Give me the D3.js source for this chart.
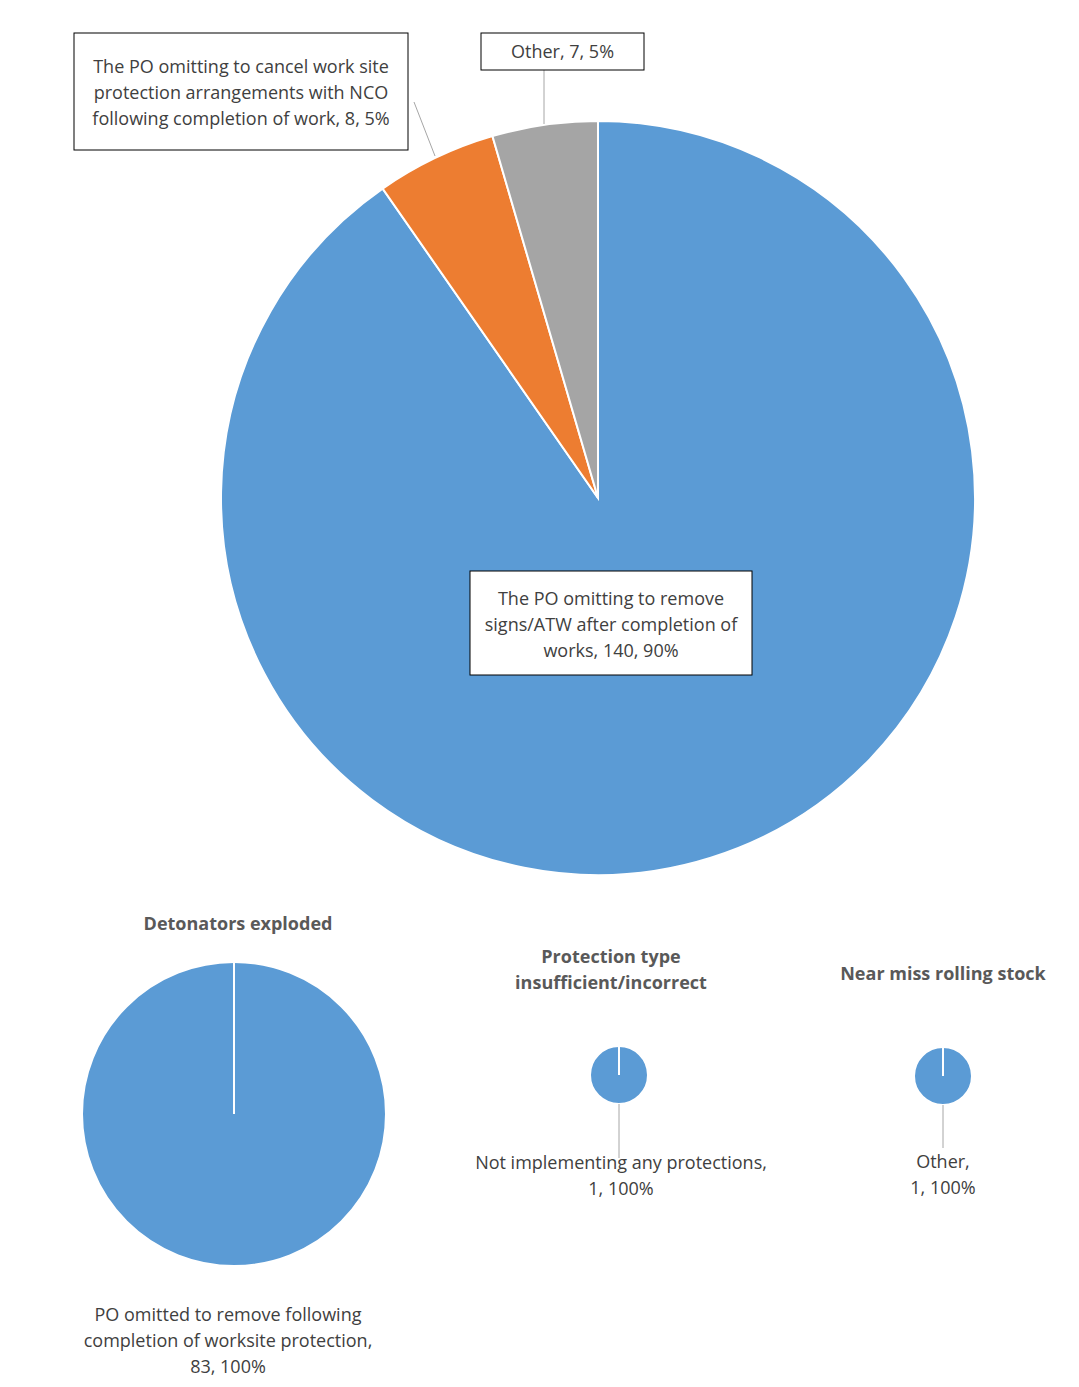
<!DOCTYPE html><html><head><meta charset="utf-8">
<script src="https://cdn.jsdelivr.net/npm/d3@7"></script>
<style>body{margin:0;background:#fff}text{font-family:"Open Sans",sans-serif}</style></head><body>
<svg id="c" width="1079" height="1387"></svg>
<script>
const mainCats=["The PO omitting to remove signs/ATW after completion of works","The PO omitting to cancel work site protection arrangements with NCO following completion of work","Other"];
const mainVals=[140,8,7];
const mainColors=["#5b9bd5","#ed7d31","#a5a5a5"];
const smallTitles=["Detonators exploded","Protection type insufficient/incorrect","Near miss rolling stock"];
const smallCats=["PO omitted to remove following completion of worksite protection","Not implementing any protections","Other"];
const smallVals=[83,1,1];

const svg=d3.select("#c");
const pie=d3.pie().sort(null).value(d=>d);
function drawPie(cx,cy,r,vals,colors){
  const g=svg.append("g").attr("transform",`translate(${cx},${cy})`);
  const arc=d3.arc().innerRadius(0).outerRadius(r);
  const arcs=pie(vals);
  g.selectAll("path").data(arcs).join("path").attr("d",arc).attr("fill",(d,i)=>colors[i]).attr("stroke","#fff").attr("stroke-width",2);
  if(vals.length===1) g.append("line").attr("x1",0).attr("y1",0).attr("x2",0).attr("y2",-r).attr("stroke","#fff").attr("stroke-width",2);
  return arcs;
}
drawPie(598,498,377,mainVals,mainColors);
function box(x,y,w,h,lines,ly){
  svg.append("rect").attr("x",x).attr("y",y).attr("width",w).attr("height",h).attr("fill","#fff").attr("stroke","#000").attr("stroke-width",1);
  lines.forEach((t,i)=>svg.append("text").attr("x",x+w/2).attr("y",ly+i*26).attr("text-anchor","middle").attr("font-size",18).attr("fill","#404040").text(t));
}
const lc="#a6a6a6";
svg.append("line").attr("x1",414).attr("y1",102).attr("x2",435).attr("y2",156).attr("stroke",lc);
svg.append("line").attr("x1",544).attr("y1",70).attr("x2",544).attr("y2",124).attr("stroke",lc);
const tot=d3.sum(mainVals);
const pct=v=>Math.round(v/tot*100)+"%";
box(470,571,282,104,["The PO omitting to remove","signs/ATW after completion of","works, "+mainVals[0]+", "+pct(mainVals[0])],605);
box(74,33,334,117,["The PO omitting to cancel work site","protection arrangements with NCO","following completion of work, "+mainVals[1]+", "+pct(mainVals[1])],73);
box(481,33,163,37,[mainCats[2]+", "+mainVals[2]+", "+pct(mainVals[2])],58);

const small=[{cx:234,cy:1114,r:152,tx:238,ty:[930],ly:1266,lab:["PO omitted to remove following","completion of worksite protection,",smallVals[0]+", 100%"],lly:1321},
{cx:619,cy:1075,r:29,tx:611,ty:[963,989],ly:1158,lab:["Not implementing any protections,",smallVals[1]+", 100%"],lly:1169},
{cx:943,cy:1076,r:29,tx:943,ty:[980],ly:1148,lab:["Other,",smallVals[2]+", 100%"],lly:1168}];
const titleLines=[["Detonators exploded"],["Protection type","insufficient/incorrect"],["Near miss rolling stock"]];
small.forEach((s,i)=>{
  drawPie(s.cx,s.cy,s.r,[smallVals[i]],["#5b9bd5"]);
  titleLines[i].forEach((t,j)=>svg.append("text").attr("x",s.tx).attr("y",s.ty[j]).attr("text-anchor","middle").attr("font-size",18).attr("font-weight","bold").attr("fill","#595959").text(t));
  svg.append("line").attr("x1",s.cx).attr("y1",s.cy+s.r).attr("x2",s.cx).attr("y2",s.ly).attr("stroke",lc);
  s.lab.forEach((t,j)=>svg.append("text").attr("x",s.cx-(i==0?6:(i==1?-2:0))).attr("y",s.lly+j*26).attr("text-anchor","middle").attr("font-size",18).attr("fill","#404040").text(t));
});
</script></body></html>
